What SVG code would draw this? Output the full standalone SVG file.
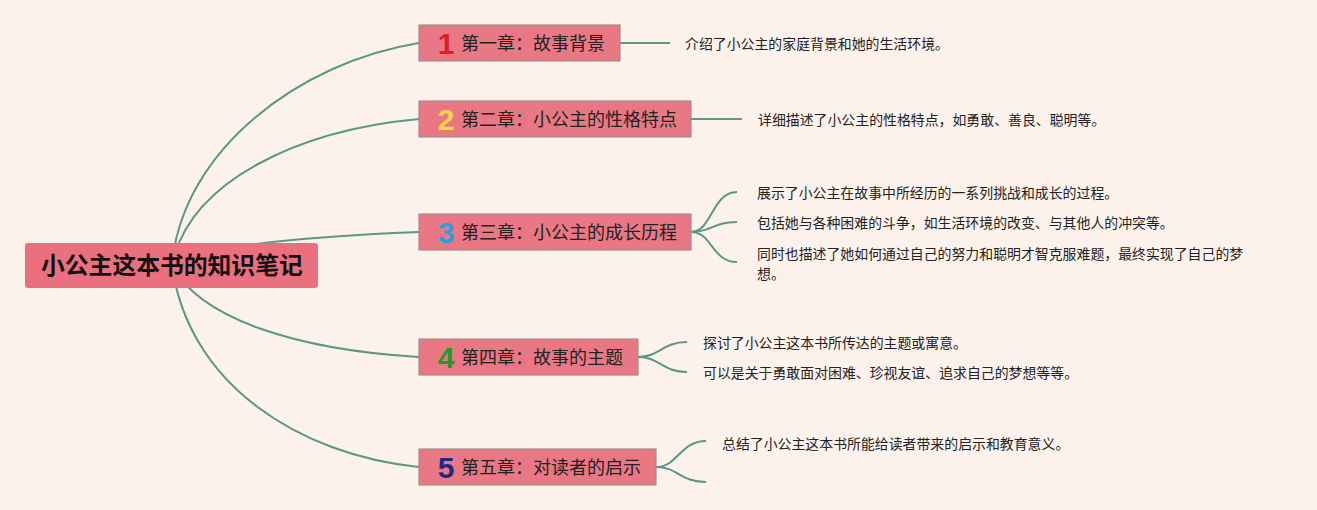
<svg xmlns="http://www.w3.org/2000/svg" width="1317" height="510" viewBox="0 0 1317 510">
<style>
.bg{fill:#fdf1eb}
.ln{fill:none;stroke:#5b9785;stroke-width:2}
.box{fill:#ea7884;stroke:#9a8f8c;stroke-width:1.2}
.root{fill:#ea7080}
.rt{font-family:"Noto Sans CJK SC",sans-serif;font-weight:bold;font-size:23.8px;fill:#111}
.ct{font-family:"Noto Sans CJK SC",sans-serif;font-size:18px;fill:#222}
.num{font-family:"Liberation Sans",Arial,sans-serif;font-weight:bold;font-size:30px;text-anchor:middle}
.dt{font-family:"Noto Sans CJK SC",sans-serif;font-size:13.9px;fill:#222}
</style>
<rect class="bg" width="1317" height="510"/>
<g id="connectors">
<path class="ln" d="M172,265 C182,150 300,62 419,43"/>
<path class="ln" d="M172,265 C190,180 300,130 419,119"/>
<path class="ln" d="M172,265 C200,245 320,236 419,232"/>
<path class="ln" d="M172,265 C200,320 300,350 419,357"/>
<path class="ln" d="M172,265 C188,385 300,455 419,467"/>
<path class="ln" d="M620,43 L670,43"/>
<path class="ln" d="M691,119 L742,119"/>
<path class="ln" d="M691,232 C712,232 712,192 737,192"/>
<path class="ln" d="M691,232 C712,232 712,222 737,222"/>
<path class="ln" d="M691,232 C712,232 712,262 737,262"/>
<path class="ln" d="M638,357 C660,357 662,342 687,342"/>
<path class="ln" d="M638,357 C660,357 662,372 687,372"/>
<path class="ln" d="M656,467 C678,467 680,441 706,441"/>
<path class="ln" d="M656,467 C678,467 680,482 706,482"/>
</g>
<g id="root">
<rect class="root" x="25" y="243" width="293" height="45" rx="3"/>
<text class="rt" x="41" y="274">小公主这本书的知识笔记</text>
</g>
<g id="ch1">
<rect class="box" x="419" y="25" width="201" height="36"/>
<text class="num" x="446" y="54" fill="#e01b2a">1</text>
<text class="ct" x="461" y="50">第一章：故事背景</text>
</g>
<g id="ch2">
<rect class="box" x="419" y="101" width="272" height="36"/>
<text class="num" x="446" y="130" fill="#f7d648">2</text>
<text class="ct" x="461" y="126">第二章：小公主的性格特点</text>
</g>
<g id="ch3">
<rect class="box" x="419" y="214" width="272" height="36"/>
<text class="num" x="446" y="243" fill="#2a9fe0">3</text>
<text class="ct" x="461" y="239">第三章：小公主的成长历程</text>
</g>
<g id="ch4">
<rect class="box" x="419" y="339" width="219" height="36"/>
<text class="num" x="446" y="368" fill="#1e9b2a">4</text>
<text class="ct" x="461" y="364">第四章：故事的主题</text>
</g>
<g id="ch5">
<rect class="box" x="419" y="449" width="237" height="36"/>
<text class="num" x="446" y="478" fill="#1f2a7e">5</text>
<text class="ct" x="461" y="474">第五章：对读者的启示</text>
</g>
<g id="d1"><text class="dt" x="685" y="49">介绍了小公主的家庭背景和她的生活环境。</text></g>
<g id="d2"><text class="dt" x="758" y="125">详细描述了小公主的性格特点，如勇敢、善良、聪明等。</text></g>
<g id="d3a"><text class="dt" x="757" y="198">展示了小公主在故事中所经历的一系列挑战和成长的过程。</text></g>
<g id="d3b"><text class="dt" x="757" y="228">包括她与各种困难的斗争，如生活环境的改变、与其他人的冲突等。</text></g>
<g id="d3c"><text class="dt" x="757" y="259">同时也描述了她如何通过自己的努力和聪明才智克服难题，最终实现了自己的梦</text><text class="dt" x="757" y="279">想。</text></g>
<g id="d4a"><text class="dt" x="703" y="348">探讨了小公主这本书所传达的主题或寓意。</text></g>
<g id="d4b"><text class="dt" x="703" y="378">可以是关于勇敢面对困难、珍视友谊、追求自己的梦想等等。</text></g>
<g id="d5"><text class="dt" x="722" y="449">总结了小公主这本书所能给读者带来的启示和教育意义。</text></g>
</svg>
